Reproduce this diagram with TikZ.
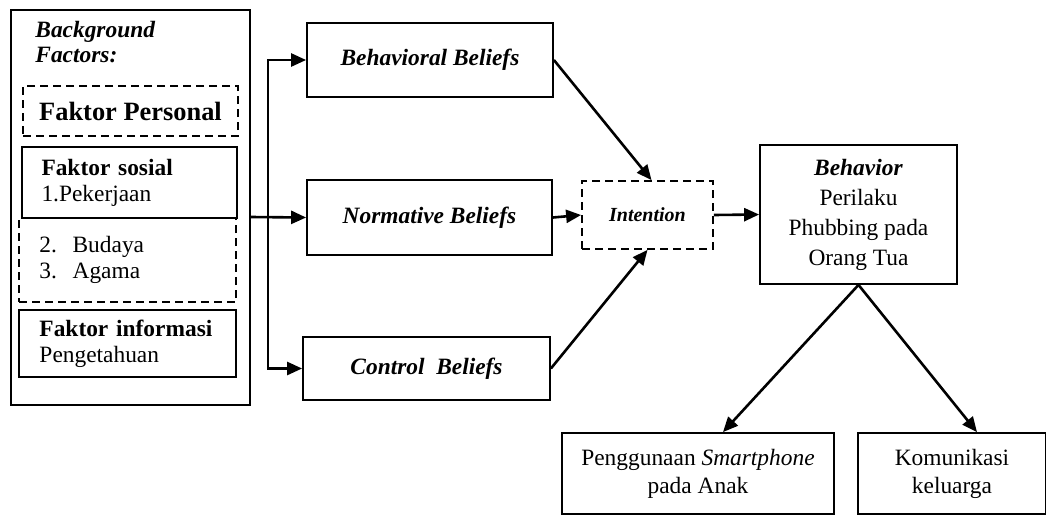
\documentclass[tikz,border=0pt]{standalone}
\usepackage{fontspec}
\setmainfont{Liberation Serif}
\usepackage{tikz}
\usetikzlibrary{arrows.meta}

\begin{document}
\fontsize{11.7}{15}\selectfont
\begin{tikzpicture}[x=0.5pt,y=-0.5pt,
  box/.style={draw,line width=0.9pt,inner sep=0pt},
  dbox/.style={box,dash pattern=on 4pt off 2.5pt},
  lbox/.style={box,text width=88pt,align=left,font=\fontsize{11.7}{13}\selectfont},
  arr/.style={line width=1.3pt,-{Triangle[length=7.5pt,width=6.5pt]}}]
\useasboundingbox (0,0) rectangle (1046,515);
\node[box,minimum width=119.5pt,minimum height=197.5pt] (bg) at (130.5,207.5) {};
\node[anchor=north west,inner sep=0pt,align=left,font=\fontsize{11.7}{12.5}\selectfont\bfseries\itshape] (bgtitle) at (35,21) {Background\\Factors:};
\node[dbox,minimum width=107.5pt,minimum height=25pt,font=\fontsize{13.2}{15}\selectfont\bfseries] (personal) at (130.5,111) {Faktor Personal};
\node[dbox,lbox,minimum width=108.5pt,minimum height=42pt] (budaya) at (127.5,260) {2.\ \ Budaya\\3.\ \ Agama};
\node[lbox,minimum width=107.5pt,minimum height=35.5pt] (sosial) at (129.5,182.5) {\textbf{Faktor sosial}\\1.Pekerjaan};
\node[lbox,minimum width=108.5pt,minimum height=33.5pt] (informasi) at (127.5,343.5) {\textbf{Faktor informasi}\\Pengetahuan};
\node[box,minimum width=123pt,minimum height=37pt,font=\bfseries\itshape] (behav) at (430,60) {Behavioral Beliefs};
\node[box,minimum width=122.5pt,minimum height=37.5pt,font=\bfseries\itshape] (norm) at (429.5,217.5) {Normative Beliefs};
\node[box,minimum width=123.5pt,minimum height=31.5pt,font=\bfseries\itshape] (ctrl) at (426.5,368.5) {Control\ \ Beliefs};
\node[dbox,minimum width=65.5pt,minimum height=34pt,font=\fontsize{10}{12}\selectfont\bfseries\itshape] (intent) at (647.5,215) {Intention};
\node[box,minimum width=98.5pt,minimum height=69.5pt,align=center] (behv) at (858.5,214.5) {\textbf{\textit{Behavior}}\\Perilaku\\Phubbing pada\\Orang Tua};
\node[box,minimum width=136pt,minimum height=40.5pt,align=center,font=\fontsize{11.7}{14}\selectfont] (guna) at (698,473.5) {Penggunaan \textit{Smartphone}\\pada Anak};
\node[box,minimum width=94pt,minimum height=40.5pt,align=center,font=\fontsize{11.7}{14}\selectfont] (kom) at (952,473.5) {Komunikasi\\keluarga};
\coordinate (split) at (268,217);
\draw[arr] (bg.east |- split) -- (norm.west);
\draw[arr] (split) |- (behav.west);
\draw[arr] (split) |- (ctrl.west);
\draw[arr] (behav.east) -- ([xshift=2pt]intent.north);
\draw[arr] (norm.east) -- (intent.west);
\draw[arr] (ctrl.east) -- (intent.south);
\draw[arr] (intent.east) -- (behv.west);
\draw[arr] (behv.south) -- ([xshift=12.5pt]guna.north);
\draw[arr] (behv.south) -- ([xshift=12.5pt]kom.north);
\end{tikzpicture}
\end{document}
